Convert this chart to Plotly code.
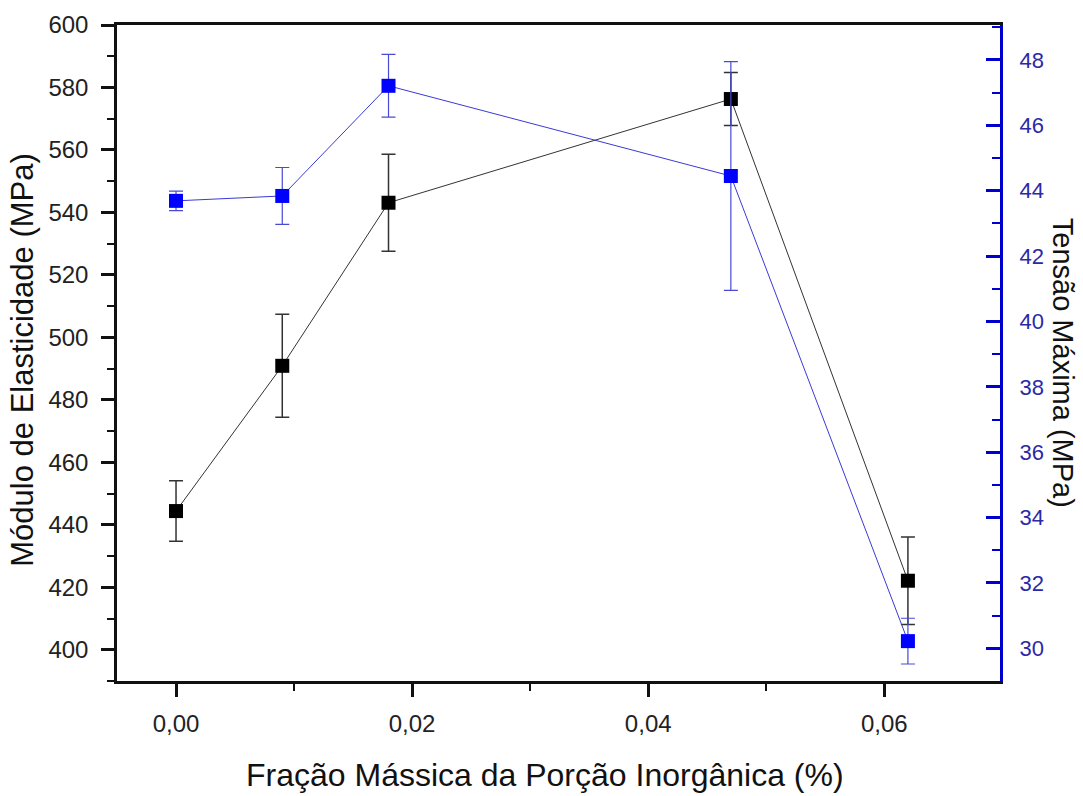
import plotly.graph_objects as go

# Data
fraction = [0.0, 0.009, 0.018, 0.047, 0.062]
modulus = [444.4, 490.9, 543.1, 576.3, 422.1]
modulus_err = [9.7, 16.5, 15.5, 8.5, 14.0]
tension = [43.69, 43.84, 47.21, 44.45, 30.22]
tension_err = [0.3, 0.87, 0.96, 3.5, 0.7]

x_title = "Fração Mássica da Porção Inorgânica (%)"
y_title = "Módulo de Elasticidade (MPa)"
y2_title = "Tensão Máxima (MPa)"

FONT = "Liberation Sans, Arial, sans-serif"

fig = go.Figure()

fig.add_trace(go.Scatter(
    x=fraction, y=modulus, mode="lines+markers",
    line=dict(color="#333333", width=1),
    marker=dict(symbol="square", size=14, color="#000000"),
    error_y=dict(type="data", array=modulus_err, visible=True,
                 color="#333333", thickness=1.5, width=7),
    showlegend=False, yaxis="y"))

fig.add_trace(go.Scatter(
    x=fraction, y=tension, mode="lines+markers",
    line=dict(color="#3a3ad6", width=1),
    marker=dict(symbol="square", size=14, color="#0000ff"),
    error_y=dict(type="data", array=tension_err, visible=True,
                 color="#4a4ad8", thickness=1.2, width=7),
    showlegend=False, yaxis="y2"))

fig.update_layout(
    width=1083, height=796,
    margin=dict(l=117, r=83, t=25, b=115),
    paper_bgcolor="white", plot_bgcolor="white",
    separators=",.",
    font=dict(family=FONT, color="#222222"),
    xaxis=dict(
        range=[-0.005, 0.0698], tickmode="linear", tick0=0, dtick=0.02,
        tickformat=".2f", showgrid=False, zeroline=False,
        showline=True, linecolor="#111111", linewidth=2.5, mirror=True,
        ticks="outside", ticklen=13, tickwidth=2.5, tickcolor="#111111",
        minor=dict(dtick=0.01, tick0=0, ticks="outside", ticklen=7,
                   tickwidth=2, tickcolor="#111111"),
        tickfont=dict(size=24, color="#222222", family=FONT),
        ticklabelstandoff=6,
    ),
    yaxis=dict(
        range=[390, 600], tickmode="linear", tick0=400, dtick=20,
        showgrid=False, zeroline=False,
        showline=True, linecolor="#111111", linewidth=2.5,
        ticks="outside", ticklen=13, tickwidth=2.5, tickcolor="#111111",
        minor=dict(dtick=10, tick0=400, ticks="outside", ticklen=7,
                   tickwidth=2, tickcolor="#111111"),
        tickfont=dict(size=24, color="#222222", family=FONT),
        ticklabelstandoff=8,
    ),
    yaxis2=dict(
        range=[29, 49.07], tickmode="linear", tick0=30, dtick=2,
        overlaying="y", side="right", anchor="x",
        showgrid=False, zeroline=False,
        showline=True, linecolor="#0000cc", linewidth=3,
        ticks="inside", ticklen=14, tickwidth=2.5, tickcolor="#0000cc",
        minor=dict(dtick=1, tick0=30, ticks="inside", ticklen=8,
                   tickwidth=2, tickcolor="#0000cc"),
        tickfont=dict(size=22, color="#2a2aa8", family=FONT),
        ticklabelstandoff=12,
    ),
    annotations=[
        dict(text=x_title, xref="paper", yref="paper", x=0.485, y=-0.143,
             xanchor="center", yanchor="middle", showarrow=False,
             font=dict(size=32, color="#111111", family=FONT)),
        dict(text=y_title, xref="paper", yref="paper", x=-0.107, y=0.489,
             xanchor="center", yanchor="middle", showarrow=False, textangle=-90,
             font=dict(size=31, color="#111111", family=FONT)),
        dict(text=y2_title, xref="paper", yref="paper", x=1.0714, y=0.485,
             xanchor="center", yanchor="middle", showarrow=False, textangle=90,
             font=dict(size=29, color="#111111", family=FONT)),
    ],
)

fig.write_html("out.html")
